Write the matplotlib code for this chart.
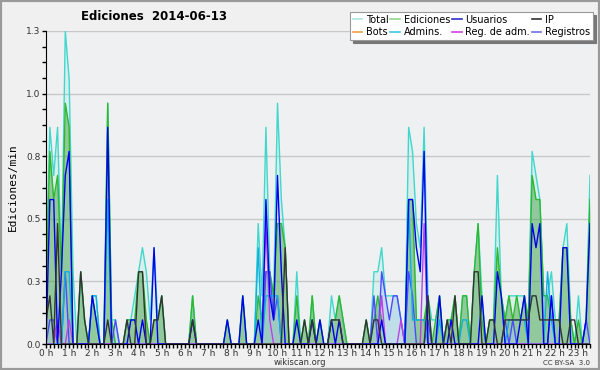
import numpy as np
import matplotlib
matplotlib.use("Agg")
import matplotlib.pyplot as plt
from matplotlib.lines import Line2D
from matplotlib.patches import Rectangle

# edits per 10-minute slot, 00:00 .. 23:30 (divided by 10 -> edits/min)
total = [3, 9, 7, 9, 3, 13, 11, 3, 0, 3, 1, 0,
         2, 2, 0, 0, 10, 1, 1, 0, 0, 1, 1, 2,
         3, 4, 3, 1, 4, 1, 2, 0, 0, 0, 0, 0,
         0, 0, 2, 0, 0, 0, 0, 0, 0, 0, 0, 1,
         0, 0, 0, 2, 0, 0, 0, 5, 2, 9, 3, 2,
         10, 6, 4, 0, 0, 3, 0, 1, 0, 2, 0, 1,
         0, 0, 2, 1, 2, 1, 0, 0, 0, 0, 0, 1,
         0, 3, 3, 4, 2, 2, 2, 2, 1, 0, 9, 8,
         5, 4, 9, 2, 1, 1, 2, 0, 1, 1, 2, 0,
         2, 2, 0, 3, 5, 2, 0, 1, 1, 7, 2, 1,
         2, 2, 2, 2, 2, 1, 8, 7, 6, 2, 2, 3,
         1, 1, 4, 5, 1, 0, 2, 0, 1, 7]
ediciones = [2, 8, 6, 7, 3, 10, 9, 0, 0, 3, 1, 0,
             2, 1, 0, 0, 10, 1, 0, 0, 0, 1, 1, 1,
             3, 3, 1, 0, 1, 1, 2, 0, 0, 0, 0, 0,
             0, 0, 2, 0, 0, 0, 0, 0, 0, 0, 0, 1,
             0, 0, 0, 2, 0, 0, 0, 2, 1, 3, 3, 2,
             5, 5, 4, 0, 0, 2, 0, 1, 0, 2, 0, 1,
             0, 0, 1, 1, 2, 1, 0, 0, 0, 0, 0, 1,
             0, 1, 2, 1, 0, 0, 0, 0, 0, 0, 6, 6,
             1, 1, 1, 2, 0, 1, 2, 0, 1, 1, 2, 0,
             2, 2, 0, 3, 5, 1, 0, 1, 1, 4, 2, 1,
             2, 1, 2, 1, 2, 1, 7, 6, 6, 2, 2, 1,
             1, 1, 4, 4, 1, 0, 1, 0, 1, 6]
usuarios = [0, 6, 6, 0, 3, 7, 8, 0, 0, 0, 0, 0,
            2, 1, 0, 0, 9, 0, 0, 0, 0, 0, 1, 1,
            0, 1, 0, 0, 4, 0, 0, 0, 0, 0, 0, 0,
            0, 0, 1, 0, 0, 0, 0, 0, 0, 0, 0, 1,
            0, 0, 0, 2, 0, 0, 0, 1, 0, 6, 2, 1,
            7, 3, 0, 0, 0, 1, 0, 0, 0, 1, 0, 1,
            0, 0, 1, 0, 1, 0, 0, 0, 0, 0, 0, 0,
            0, 0, 0, 1, 0, 0, 0, 0, 0, 0, 6, 6,
            4, 3, 8, 0, 0, 0, 2, 0, 0, 1, 0, 0,
            0, 0, 0, 0, 0, 2, 0, 0, 0, 3, 2, 0,
            0, 0, 0, 1, 2, 0, 5, 4, 5, 0, 0, 2,
            0, 0, 4, 4, 0, 0, 0, 0, 1, 5]
ip = [1, 2, 0, 5, 0, 0, 0, 0, 0, 3, 1, 0,
      0, 0, 0, 0, 1, 0, 0, 0, 0, 1, 0, 0,
      3, 3, 0, 0, 1, 1, 2, 0, 0, 0, 0, 0,
      0, 0, 1, 0, 0, 0, 0, 0, 0, 0, 0, 0,
      0, 0, 0, 0, 0, 0, 0, 0, 0, 0, 0, 0,
      0, 0, 4, 0, 0, 0, 0, 1, 0, 1, 0, 0,
      0, 0, 1, 1, 1, 0, 0, 0, 0, 0, 0, 1,
      0, 1, 1, 0, 0, 0, 0, 0, 0, 0, 0, 0,
      0, 0, 0, 2, 0, 0, 0, 0, 1, 0, 2, 0,
      0, 0, 0, 3, 3, 0, 0, 1, 1, 0, 0, 1,
      1, 1, 1, 1, 1, 1, 2, 2, 1, 1, 1, 1,
      1, 1, 0, 0, 1, 1, 0, 0, 0, 0]
bots = [0] * 142
admins = [0, 0, 0, 0, 0, 3, 3, 0, 0, 0, 0, 0,
          2, 2, 0, 0, 6, 0, 0, 0, 0, 0, 0, 0,
          0, 0, 0, 0, 0, 0, 0, 0, 0, 0, 0, 0,
          0, 0, 0, 0, 0, 0, 0, 0, 0, 0, 0, 0,
          0, 0, 0, 0, 0, 0, 0, 4, 0, 2, 2, 2,
          2, 0, 0, 0, 0, 0, 0, 0, 0, 0, 0, 0,
          0, 0, 0, 0, 0, 0, 0, 0, 0, 0, 0, 0,
          0, 0, 0, 0, 0, 0, 0, 0, 0, 0, 6, 1,
          1, 1, 1, 0, 0, 0, 1, 0, 0, 0, 0, 0,
          1, 1, 0, 0, 0, 0, 0, 0, 0, 0, 0, 0,
          1, 1, 1, 1, 1, 0, 0, 0, 0, 0, 3, 1,
          0, 0, 0, 0, 0, 0, 0, 0, 0, 0]
reg_adm = [0, 0, 0, 1, 0, 0, 1, 0, 0, 0, 0, 0,
           0, 0, 0, 0, 0, 0, 0, 0, 0, 0, 0, 0,
           0, 0, 0, 0, 0, 0, 0, 0, 0, 0, 0, 0,
           0, 0, 0, 0, 0, 0, 0, 0, 0, 0, 0, 0,
           0, 0, 0, 0, 0, 0, 0, 0, 0, 5, 1, 0,
           0, 0, 0, 0, 0, 0, 0, 0, 0, 0, 0, 0,
           0, 0, 0, 0, 0, 0, 0, 0, 0, 0, 0, 0,
           0, 0, 0, 2, 0, 0, 0, 0, 1, 0, 0, 0,
           0, 0, 5, 0, 0, 0, 0, 0, 0, 0, 0, 0,
           0, 0, 0, 0, 0, 0, 0, 0, 0, 0, 0, 0,
           0, 0, 0, 0, 0, 0, 0, 0, 0, 0, 0, 0,
           0, 0, 0, 0, 0, 0, 0, 0, 0, 0]
registros = [0, 1, 1, 0, 0, 3, 0, 0, 0, 0, 0, 0,
             0, 0, 0, 0, 0, 0, 1, 0, 0, 0, 0, 0,
             0, 0, 0, 0, 0, 0, 0, 0, 0, 0, 0, 0,
             0, 0, 0, 0, 0, 0, 0, 0, 0, 0, 0, 0,
             0, 0, 0, 0, 0, 0, 0, 0, 0, 3, 3, 1,
             2, 0, 0, 0, 0, 0, 0, 0, 0, 0, 0, 0,
             0, 0, 0, 0, 0, 0, 0, 0, 0, 0, 0, 0,
             0, 2, 0, 3, 2, 1, 2, 2, 1, 0, 3, 2,
             0, 0, 0, 1, 0, 0, 0, 0, 0, 0, 0, 0,
             0, 0, 0, 0, 0, 0, 0, 0, 0, 0, 0, 1,
             0, 1, 0, 0, 0, 0, 0, 0, 0, 0, 0, 2,
             0, 0, 0, 0, 0, 0, 0, 0, 1, 0]

hour_labels = ["%d h" % h for h in range(24)]

hours = np.arange(len(total)) / 6.0
def per_min(v):
    return np.array(v) / 10.0

bg = "#eff0f2"
fig = plt.figure(figsize=(6, 3.7), dpi=100, facecolor="#f0f0f0")
fig.patches.append(Rectangle((0, 0), 1, 1, transform=fig.transFigure,
                             fill=False, edgecolor="#9a9a9a", linewidth=3))
ax = fig.add_axes([46 / 600, 26 / 370, 544 / 600, 313 / 370])
ax.set_facecolor(bg)

lw = 1.0
ax.fill_between(hours, 0, per_min(total), color="#40e0d0", alpha=0.12, linewidth=0)
ax.plot(hours, per_min(total), color="#40d8cc", lw=lw)
ax.fill_between(hours, 0, per_min(ediciones), color="#3a9a3a", alpha=0.45, linewidth=0)
ax.plot(hours, per_min(ediciones), color="#2eb82e", lw=lw)
ax.fill_between(hours, 0, per_min(registros), color="#a8cde8", alpha=0.5, linewidth=0)
ax.plot(hours, per_min(registros), color="#4a4aff", lw=lw)
ax.plot(hours, per_min(bots), color="#f0a040", lw=lw, zorder=1)
ax.plot(hours, per_min(admins), color="#10b0e0", lw=lw)
ax.plot(hours, per_min(reg_adm), color="#c040e8", lw=lw)
ax.plot(hours, per_min(usuarios), color="#0000ee", lw=lw)
ax.plot(hours, per_min(ip), color="#333333", lw=lw)

ymax = 1.3
ax.set_ylim(0, ymax)
ax.set_xlim(0, hours[-1])
yt = np.linspace(0, ymax, 6)
ax.set_yticks(yt)
ax.set_yticklabels(["%.1f" % v for v in yt])
ax.set_yticks(np.linspace(0, ymax, 21), minor=True)
ax.set_xticks(np.arange(24))
ax.set_xticklabels(hour_labels)
ax.set_xticks(np.arange(0, hours[-1] + 0.01, 1 / 6), minor=True)
ax.yaxis.grid(True, color="#c8c8c8", linewidth=1)
ax.set_axisbelow(True)
for s in ["top", "right"]:
    ax.spines[s].set_visible(False)
for s in ["left", "bottom"]:
    ax.spines[s].set_color("black")
    ax.spines[s].set_zorder(5)
ax.tick_params(which="major", length=3, width=1, labelsize=6.5, colors="black",
               labelcolor="#333333", pad=1)
ax.tick_params(axis="x", which="major", pad=0.5)
ax.tick_params(which="minor", length=3, width=1)
ax.set_ylabel("Ediciones/min", family="DejaVu Sans Mono", fontsize=8, labelpad=6)

fig.text(0.257, 0.955, "Ediciones  2014-06-13", ha="center", va="center",
         fontsize=8.5, fontweight="bold")
fig.text(0.5, 0.02, "wikiscan.org", ha="center", va="center", fontsize=6, color="#333333")
fig.text(0.983, 0.02, "CC BY-SA  3.0", ha="right", va="center", fontsize=5, color="#333333")

handles = [
    Line2D([], [], color="#a8e8e0", lw=1.2, label="Total"),
    Line2D([], [], color="#f0a040", lw=1.2, label="Bots"),
    Line2D([], [], color="#90d890", lw=1.2, label="Ediciones"),
    Line2D([], [], color="#40c8e0", lw=1.2, label="Admins."),
    Line2D([], [], color="#3030d0", lw=1.2, label="Usuarios"),
    Line2D([], [], color="#d040e0", lw=1.2, label="Reg. de adm."),
    Line2D([], [], color="#333333", lw=1.2, label="IP"),
    Line2D([], [], color="#7070e0", lw=1.2, label="Registros"),
]
leg = fig.legend(handles=handles, ncol=4, loc="upper right",
                 bbox_to_anchor=(0.988, 0.968), fontsize=7, handlelength=1.0,
                 handletextpad=0.35, columnspacing=0.2, labelspacing=0.25,
                 borderpad=0.3, fancybox=False, shadow={"color": "#777777", "alpha": 1},
                 framealpha=1, edgecolor="#999999", borderaxespad=0)
leg.get_frame().set_linewidth(0.8)

fig.savefig("out.png", dpi=100, facecolor=fig.get_facecolor())
